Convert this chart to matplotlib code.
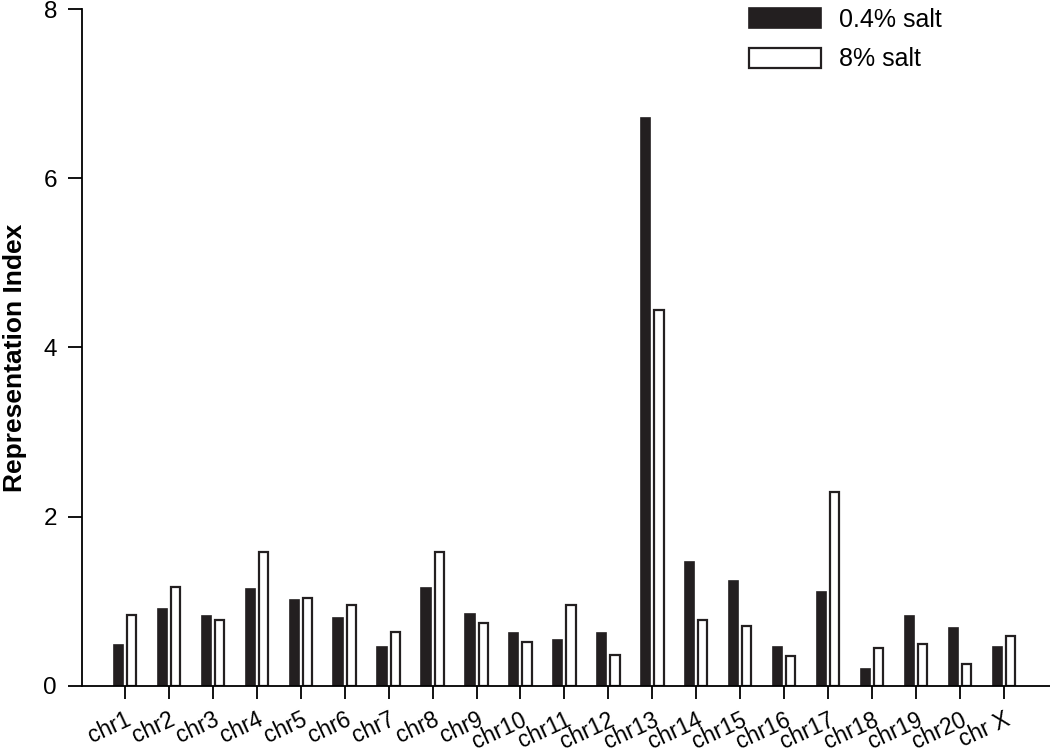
import numpy as np
import matplotlib.pyplot as plt
import matplotlib.transforms as mtransforms

plt.rcParams.update({
    "font.family": ["Liberation Sans", "DejaVu Sans"],
    "font.size": 18,
})

CHROMS = ["chr1", "chr2", "chr3", "chr4", "chr5", "chr6", "chr7", "chr8", "chr9",
          "chr10", "chr11", "chr12", "chr13", "chr14", "chr15", "chr16", "chr17",
          "chr18", "chr19", "chr20", "chr X"]
LOW_SALT = [0.48, 0.91, 0.83, 1.15, 1.01, 0.80, 0.46, 1.16, 0.85, 0.63, 0.54,
            0.62, 6.71, 1.46, 1.24, 0.46, 1.11, 0.20, 0.82, 0.68, 0.46]
HIGH_SALT = [0.84, 1.17, 0.78, 1.58, 1.04, 0.95, 0.64, 1.58, 0.74, 0.52, 0.95,
             0.36, 4.44, 0.78, 0.71, 0.35, 2.29, 0.45, 0.50, 0.26, 0.59]

fig = plt.figure(figsize=(10.5, 7.52), dpi=100)
ax = fig.add_axes([0.078, 0.088, 0.922, 0.9])

x = np.arange(len(CHROMS))
w = 0.21
ax.bar(x - 0.15, LOW_SALT, w, color="#231f20", edgecolor="#231f20", lw=1.2,
       label="0.4% salt")
ax.bar(x + 0.15, HIGH_SALT, w, color="white", edgecolor="#231f20", lw=1.6,
       label="8% salt")

ax.set_xlim(-0.98, 21.05)
ax.set_ylim(0, 8)
ax.set_yticks([0, 2, 4, 6, 8])
ax.set_xticks(x)
ax.set_xticklabels(CHROMS, rotation=25, ha="right", va="top",
                   rotation_mode="anchor", fontsize=16.5)
shift = mtransforms.ScaledTranslation(2 / 100, 0, fig.dpi_scale_trans)
for lbl in ax.get_xticklabels():
    lbl.set_transform(lbl.get_transform() + shift)
ax.tick_params(axis="y", direction="out", length=10, width=1.3, labelsize=17.5, pad=8)
ax.tick_params(axis="x", direction="out", length=9, width=1.3, pad=7)
ax.set_ylabel("Representation Index", fontsize=19, fontweight="bold")
ax.yaxis.set_label_coords(-0.057, 0.485)

for s in ["top", "right"]:
    ax.spines[s].set_visible(False)
for s in ["left", "bottom"]:
    ax.spines[s].set_linewidth(1.3)

ax.legend(loc="upper left", bbox_to_anchor=(0.676, 1.02), frameon=False,
          borderpad=0, fontsize=18, handlelength=2.9, handleheight=0.85,
          labelspacing=0.62, handletextpad=0.7)

fig.savefig("out.png", dpi=100)
